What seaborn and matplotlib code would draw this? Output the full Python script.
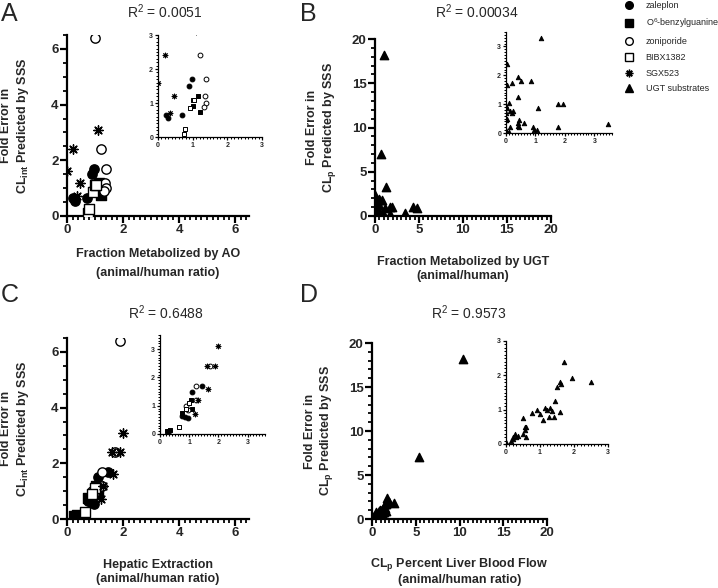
import matplotlib
matplotlib.use("Agg")
import matplotlib.pyplot as plt
from matplotlib.lines import Line2D
from matplotlib.ticker import MultipleLocator
import pandas as pd
import seaborn as sns

# ---- panel A: fraction metabolized by AO (animal/human) vs fold error
zal_a_x = [0.22, 0.30, 0.70, 0.90, 0.97]
zal_a_y = [0.65, 0.55, 0.65, 1.50, 1.70]
o6_a_x = [1.00, 1.15, 1.20]
o6_a_y = [0.90, 1.20, 0.75]
zon_a_x = [1.00, 1.22, 1.38, 1.35, 1.38, 1.33]
zon_a_y = [6.40, 2.40, 1.70, 1.20, 1.00, 0.88]
bibx_a_x = [0.75, 0.78, 0.92, 1.00, 1.05]
bibx_a_y = [0.10, 0.25, 0.85, 1.10, 1.10]
sgx_a_x = [0.00, 0.20, 0.45, 0.35, 1.10]
sgx_a_y = [1.60, 2.40, 1.20, 0.72, 3.10]

# ---- panel C: hepatic extraction (animal/human) vs fold error
zal_c_x = [0.30, 0.75, 0.85, 0.95, 1.10, 1.45]
zal_c_y = [0.12, 0.65, 0.60, 0.55, 1.50, 1.70]
o6_c_x = [0.25, 0.35, 0.75, 1.05, 1.10]
o6_c_y = [0.10, 0.15, 0.75, 1.20, 0.90]
zon_c_x = [1.90, 0.90, 0.95, 1.25, 1.25, 1.70]
zon_c_y = [6.40, 1.00, 0.85, 1.70, 1.20, 2.40]
bibx_c_x = [0.65, 1.00, 0.90]
bibx_c_y = [0.25, 1.10, 0.90]
sgx_c_x = [2.00, 1.60, 1.90, 1.65, 1.30, 1.20]
sgx_c_y = [3.10, 2.40, 2.40, 1.60, 1.20, 0.72]

# ---- panel B: fraction metabolized by UGT vs fold error in CLp
ugt_b_x = [1.00, 0.70, 4.30, 4.80, 1.20, 0.05, 0.05, 0.20, 0.40, 0.50, 0.85, 0.40,
           0.10, 0.00, 0.05, 0.00, 0.15, 0.20, 0.25, 1.10, 1.75, 1.95, 0.00, 0.02,
           0.40, 0.45, 0.60, 0.45, 0.15, 0.00, 0.05, 0.10, 0.90, 0.95, 1.05, 1.75,
           3.45, 0.40]
ugt_b_y = [18.2, 7.00, 1.00, 0.85, 3.30, 2.40, 1.65, 1.75, 1.95, 1.80, 1.80, 1.25,
           1.05, 0.95, 0.85, 0.70, 0.75, 0.70, 0.75, 0.85, 1.00, 1.00, 0.45, 0.50,
           0.35, 0.45, 0.35, 0.22, 0.20, 0.10, 0.05, 0.05, 0.20, 0.10, 0.12, 0.20,
           0.30, 0.25]

# ---- panel D: CLp percent liver blood flow vs fold error in CLp
ugt_d_x = [10.4, 5.40, 0.00, 0.15, 0.20, 0.25, 0.30, 0.35, 0.20, 0.50, 0.55, 0.55,
           0.60, 0.60, 0.50, 0.75, 0.90, 1.00, 1.10, 1.15, 1.20, 1.25, 1.30, 1.35,
           1.40, 1.45, 1.50, 1.60, 1.62, 1.60, 1.70, 1.95, 2.50]
ugt_d_y = [18.2, 7.00, 0.05, 0.10, 0.15, 0.30, 0.20, 0.22, 0.20, 0.30, 0.40, 0.50,
           0.50, 0.20, 0.75, 0.90, 1.00, 0.87, 0.70, 1.05, 1.00, 0.80, 1.05, 0.95,
           0.80, 1.25, 1.65, 1.80, 1.75, 0.92, 2.40, 1.93, 1.80]

names = ["zaleplon", "O$^6$-benzylguanine", "zoniporide", "BIBX1382", "SGX523",
         "UGT substrates"]
r2_labels = ["R$^2$ = 0.0051", "R$^2$ = 0.00034", "R$^2$ = 0.6488", "R$^2$ = 0.9573"]


def frame(pairs):
    rows = []
    for name, xs, ys in pairs:
        for x, y in zip(xs, ys):
            rows.append({"compound": name, "x": x, "y": y})
    return pd.DataFrame(rows)


df_a = frame([(names[0], zal_a_x, zal_a_y), (names[1], o6_a_x, o6_a_y),
              (names[2], zon_a_x, zon_a_y), (names[3], bibx_a_x, bibx_a_y),
              (names[4], sgx_a_x, sgx_a_y)])
df_c = frame([(names[0], zal_c_x, zal_c_y), (names[1], o6_c_x, o6_c_y),
              (names[2], zon_c_x, zon_c_y), (names[3], bibx_c_x, bibx_c_y),
              (names[4], sgx_c_x, sgx_c_y)])
df_b = frame([(names[5], ugt_b_x, ugt_b_y)])
df_d = frame([(names[5], ugt_d_x, ugt_d_y)])

sns.set_theme(style="ticks")
plt.rcParams["font.family"] = ["Liberation Sans", "DejaVu Sans"]
plt.rcParams["mathtext.fontset"] = "custom"
plt.rcParams["mathtext.rm"] = "Liberation Sans"
plt.rcParams["mathtext.it"] = "Liberation Sans:italic"
plt.rcParams["mathtext.bf"] = "Liberation Sans:bold"
plt.rcParams["mathtext.default"] = "regular"

mk = {
    names[0]: dict(marker="o", color="black", edgecolor="black"),
    names[1]: dict(marker="s", color="black", edgecolor="black"),
    names[2]: dict(marker="o", color="white", edgecolor="black"),
    names[3]: dict(marker="s", color="white", edgecolor="black"),
    names[4]: dict(marker=(8, 2, 0), color="black"),
    names[5]: dict(marker="^", color="black", edgecolor="black"),
}

W, H = 718, 588
fig = plt.figure(figsize=(W / 100, H / 100), dpi=100)


def rect(left, right, top, bottom):
    return [left / W, 1 - bottom / H, (right - left) / W, (bottom - top) / H]


def draw(ax, df, size, lw):
    for name, grp in df.groupby("compound", sort=False):
        sns.scatterplot(data=grp, x="x", y="y", ax=ax, s=size, linewidth=lw,
                        legend=False, zorder=3, **mk[name])
    ax.set_xlabel("")
    ax.set_ylabel("")
    sns.despine(ax=ax)


def style_axis(ax, lim_x, lim_y, maj_x, min_x, maj_y, min_y, fs, spine, tick):
    ax.set_xlim(*lim_x)
    ax.set_ylim(*lim_y)
    ax.xaxis.set_major_locator(MultipleLocator(maj_x))
    ax.xaxis.set_minor_locator(MultipleLocator(min_x))
    ax.yaxis.set_major_locator(MultipleLocator(maj_y))
    ax.yaxis.set_minor_locator(MultipleLocator(min_y))
    for s in ["left", "bottom"]:
        ax.spines[s].set_linewidth(spine)
        ax.spines[s].set_color("black")
    ax.tick_params(which="major", length=tick, width=spine, color="black",
                   labelsize=fs, pad=1)
    ax.tick_params(which="minor", length=tick * 0.55, width=spine * 0.8,
                   color="black")
    for lab in ax.get_xticklabels() + ax.get_yticklabels():
        lab.set_fontweight("bold")
    ax.set_facecolor("none")


ylab_cl = "Fold Error in\nCL$_{\\mathbf{int}}$ Predicted by SSS"
ylab_p = "Fold Error in\nCL$_{\\mathbf{p}}$ Predicted by SSS"

panels = [
    dict(main=rect(67, 249, 35, 216), ins=rect(158, 262, 35, 137), df=df_a,
         lim=(0, 6.5), ilx=(0, 3), ily=(0, 3), maj=2, mnx=0.2, mny=0.5,
         xl="Fraction Metabolized by AO\n(animal/human ratio)", yl=ylab_cl,
         xly=-0.177, xls=1.75, yly=-0.2, s=45, si=12),
    dict(main=rect(375, 551, 39, 216), ins=rect(506, 612, 32, 133), df=df_b,
         lim=(0, 20), ilx=(0, 3.6), ily=(0, 3.5), maj=5, mnx=0.5, mny=1,
         xl="Fraction Metabolized by UGT\n(animal/human)", yl=ylab_p,
         xly=-0.226, xls=1.25, yly=-0.21, s=36, si=10),
    dict(main=rect(67, 249, 338, 519), ins=rect(160, 265, 335, 434), df=df_c,
         lim=(0, 6.5), ilx=(0, 3.6), ily=(0, 3.5), maj=2, mnx=0.2, mny=0.5,
         xl="Hepatic Extraction\n(animal/human ratio)", yl=ylab_cl,
         xly=-0.222, xls=1.25, yly=-0.2, s=45, si=12),
    dict(main=rect(372, 547, 343, 519), ins=rect(506, 608, 341, 444), df=df_d,
         lim=(0, 20), ilx=(0, 3), ily=(0, 3), maj=5, mnx=0.5, mny=1,
         xl="CL$_{\\mathbf{p}}$ Percent Liver Blood Flow\n(animal/human ratio)",
         yl=ylab_p, xly=-0.21, xls=1.1, yly=-0.21, s=36, si=10),
]

letters = ["A", "B", "C", "D"]
letter_pos = [(1, 2), (300, 2), (1, 283), (300, 283)]
title_pos = [(165, 12), (477, 12), (166, 313), (469, 313)]

for i, p in enumerate(panels):
    ax = fig.add_axes(p["main"])
    draw(ax, p["df"], p["s"], 1.0)
    style_axis(ax, p["lim"], p["lim"], p["maj"], p["mnx"], p["maj"], p["mny"],
               9.5, 1.6, 5)
    ax.set_xlabel(p["xl"], fontsize=9, fontweight="bold", linespacing=p["xls"])
    ax.set_ylabel(p["yl"], fontsize=9, fontweight="bold", linespacing=1.25)
    ax.xaxis.set_label_coords(0.5, p["xly"])
    ax.yaxis.set_label_coords(p["yly"], 0.5)

    axi = fig.add_axes(p["ins"])
    draw(axi, p["df"], p["si"], 0.7)
    style_axis(axi, p["ilx"], p["ily"], 1, 0.1, 1, 0.1, 5, 0.9, 2.5)

    fig.text(letter_pos[i][0] / W, 1 - letter_pos[i][1] / H, letters[i],
             fontsize=18, ha="left", va="top")
    fig.text(title_pos[i][0] / W, 1 - title_pos[i][1] / H, r2_labels[i],
             fontsize=10, ha="center", va="center")

handles = []
for name in names:
    st = mk[name]
    handles.append(Line2D([], [], linestyle="none", marker=st["marker"],
                          markerfacecolor=st["color"], markeredgecolor="black",
                          markeredgewidth=1.0, markersize=5.5, label=name))
fig.legend(handles=handles, loc="upper left", bbox_to_anchor=(624 / W, 1 - 0 / H),
           frameon=False, fontsize=6.5, handlelength=1.0, handletextpad=1.3,
           labelspacing=0.75, borderaxespad=0, borderpad=0.1)

fig.savefig("out.png", dpi=100)
